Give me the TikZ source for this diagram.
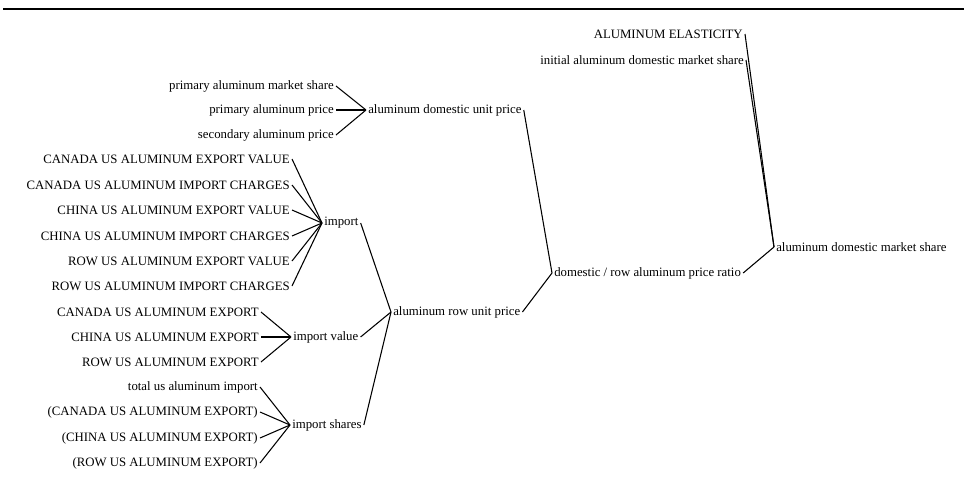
\documentclass[tikz,border=0pt]{standalone}
\usepackage{fontspec}
\setmainfont{Liberation Serif}
\begin{document}
\begin{tikzpicture}[x=0.75pt,y=-0.75pt,
    every node/.style={font=\fontsize{9.6}{11}\selectfont,inner sep=1.5pt},
    tie/.style={line width=0.8pt}]
    \useasboundingbox (0,0) rectangle (964,483);
    \draw[line width=2pt] (3,9) -- (964,9);

    % variables fed by the causes
    \node[anchor=west] (adup) at (366,110) {aluminum domestic unit price};
    \node[anchor=west] (imp) at (322,223) {import};
    \node[anchor=west] (impv) at (291,337) {import value};
    \node[anchor=west] (imps) at (290,425) {import shares};
    \node[anchor=west] (arup) at (391,312) {aluminum row unit price};
    \node[anchor=west] (ratio) at (552,273) {domestic / row aluminum price ratio};
    \node[anchor=west] (adms) at (774,247) {aluminum domestic market share};

    \foreach \y/\n/\t in {
        86/pams/primary aluminum market share,
        110/pap/primary aluminum price,
        135/sap/secondary aluminum price}{
      \node[anchor=east] (\n) at (336,\y) {\t};
      \draw[tie] (\n.east) -- (adup.west);
    }

    \foreach \y/\n/\t in {
        159/caev/CANADA US ALUMINUM EXPORT VALUE,
        185/caic/CANADA US ALUMINUM IMPORT CHARGES,
        210/chev/CHINA US ALUMINUM EXPORT VALUE,
        236/chic/CHINA US ALUMINUM IMPORT CHARGES,
        261/roev/ROW US ALUMINUM EXPORT VALUE,
        286/roic/ROW US ALUMINUM IMPORT CHARGES}{
      \node[anchor=east] (\n) at (292,\y) {\t};
      \draw[tie] (\n.east) -- (imp.west);
    }

    \foreach \y/\n/\t in {
        312/cae/CANADA US ALUMINUM EXPORT,
        337/che/CHINA US ALUMINUM EXPORT,
        362/roe/ROW US ALUMINUM EXPORT}{
      \node[anchor=east] (\n) at (261,\y) {\t};
      \draw[tie] (\n.east) -- (impv.west);
    }

    \foreach \y/\n/\t in {
        387/tuai/total us aluminum import,
        412/caes/{(CANADA US ALUMINUM EXPORT)},
        438/ches/{(CHINA US ALUMINUM EXPORT)},
        463/roes/{(ROW US ALUMINUM EXPORT)}}{
      \node[anchor=east] (\n) at (260,\y) {\t};
      \draw[tie] (\n.east) -- (imps.west);
    }

    \foreach \n in {imp,impv,imps}{
      \draw[tie] (\n.east) -- (arup.west);
    }
    \draw[tie] (adup.east) -- (ratio.west);
    \draw[tie] (arup.east) -- (ratio.west);

    \node[anchor=east] (ael) at (745,34) {ALUMINUM ELASTICITY};
    \node[anchor=east] (iadms) at (746,60) {initial aluminum domestic market share};
    \draw[tie] (ael.east) -- (adms.west);
    \draw[tie] (iadms.east) -- (adms.west);
    \draw[tie] (ratio.east) -- (adms.west);
  \end{tikzpicture}
\end{document}
